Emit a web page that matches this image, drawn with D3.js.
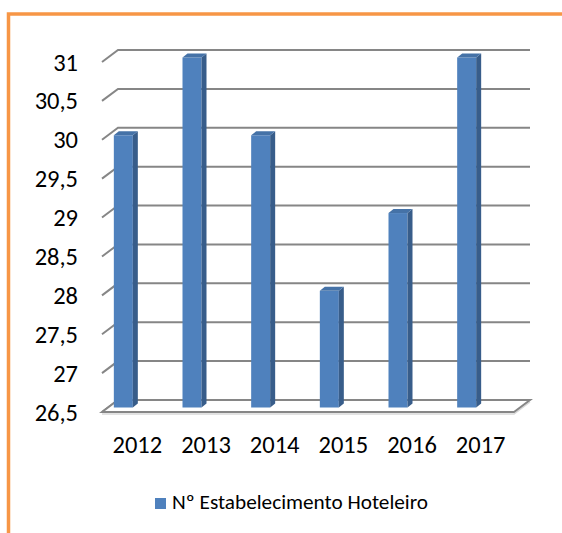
<!DOCTYPE html>
<html>
<head>
<meta charset="utf-8">
<script src="https://cdn.jsdelivr.net/npm/d3@7"></script>
<style>
  body { margin: 0; padding: 0; background: #fff; }
  text { font-family: Carlito, Lato, "Open Sans", sans-serif; fill: #000; }
</style>
</head>
<body>
<script>
// values
const years = ["2012", "2013", "2014", "2015", "2016", "2017"]
const counts = [30, 31, 30, 28, 29, 31]
const tickValues = [26.5, 27, 27.5, 28, 28.5, 29, 29.5, 30, 30.5, 31]
const seriesName = "Nº Estabelecimento Hoteleiro"

const width = 562
const height = 533

// fake 3d: back wall is shifted up-right from the front plane
const depthX = 16
const depthY = -12

const svg = d3.select('body').append('svg')
  .attr("width", width)
  .attr("height", height)

// back wall scale
const y = d3.scaleLinear().domain([26.5, 31]).range([400, 50])
// categories along the front of the floor
const x = d3.scaleBand().domain(years).range([102, 514])

const fmt = d => String(d).replace(".", ",")

const wallLeft = x.range()[0]
const wallRight = x.range()[1] + depthX

// gridlines: diagonal on left wall then across the back wall
svg.append("g")
  .attr("fill", "none")
  .attr("stroke", "#868686")
  .attr("stroke-width", 2)
  .selectAll("path")
  .data(tickValues)
  .join("path")
  .attr("d", d => `M${wallLeft},${y(d) - depthY}L${wallLeft + depthX},${y(d)}L${wallRight},${y(d)}`)

// floor
const fy = y(26.5)
svg.append("path")
  .attr("fill", "none")
  .attr("stroke", "#d9d9d9")
  .attr("stroke-width", 1.5)
  .attr("d", `M${wallLeft},${fy - depthY + 2}L${x.range()[1]},${fy - depthY + 2}L${wallRight},${fy + 2}`)
svg.append("path")
  .attr("fill", "#fff")
  .attr("stroke", "#868686")
  .attr("stroke-width", 2)
  .attr("d", `M${wallLeft},${fy - depthY}L${wallLeft + depthX},${fy}L${wallRight},${fy}L${x.range()[1]},${fy - depthY}Z`)

// bars
const barW = 19
const sideX = 5
const sideY = -4
const frontShift = 7.5 // bar front plane sits between wall and floor edge
const barLeft = d => x(d) + x.bandwidth() / 2 - 22.5

const bars = svg.append("g")
  .selectAll("g")
  .data(years.map((yr, i) => ({ yr, v: counts[i] })))
  .join("g")

bars.append("rect")
  .attr("x", d => barLeft(d.yr))
  .attr("y", d => y(d.v) + frontShift)
  .attr("width", barW)
  .attr("height", d => y(26.5) - y(d.v))
  .attr("fill", "#4f81bd")

bars.append("path")
  .attr("fill", "#385d8a")
  .attr("d", d => {
    const xr = barLeft(d.yr) + barW
    const top = y(d.v) + frontShift
    const bot = y(26.5) + frontShift
    return `M${xr},${top}L${xr + sideX},${top + sideY}L${xr + sideX},${bot + sideY}L${xr},${bot}Z`
  })

bars.append("path")
  .attr("fill", "#4572a7")
  .attr("d", d => {
    const xl = barLeft(d.yr)
    const top = y(d.v) + frontShift
    return `M${xl},${top}L${xl + sideX},${top + sideY}L${xl + barW + sideX},${top + sideY}L${xl + barW},${top}Z`
  })

// y labels, on the front plane
svg.append("g")
  .selectAll("text")
  .data(tickValues)
  .join("text")
  .attr("x", 78)
  .attr("y", d => y(d) - depthY)
  .attr("dy", "0.35em")
  .attr("text-anchor", "end")
  .attr("font-size", "24.5px")
  .text(fmt)

// x labels
svg.append("g")
  .selectAll("text")
  .data(years)
  .join("text")
  .attr("x", d => x(d) + x.bandwidth() / 2 + 1)
  .attr("y", 453)
  .attr("text-anchor", "middle")
  .attr("font-size", "24.5px")
  .text(d => d)

// legend
svg.append("rect")
  .attr("x", 155)
  .attr("y", 498)
  .attr("width", 11)
  .attr("height", 11)
  .attr("fill", "#4f81bd")

svg.append("text")
  .attr("x", 172)
  .attr("y", 509)
  .attr("font-size", "20px")
  .attr("textLength", 256)
  .attr("lengthAdjust", "spacingAndGlyphs")
  .text(seriesName)

// orange frame, only top and left edges show
svg.append("path")
  .attr("fill", "none")
  .attr("stroke", "#f79646")
  .attr("stroke-width", 3.5)
  .attr("d", `M8.5,${height + 10}L8.5,14L${width + 10},14`)
</script>
</body>
</html>
